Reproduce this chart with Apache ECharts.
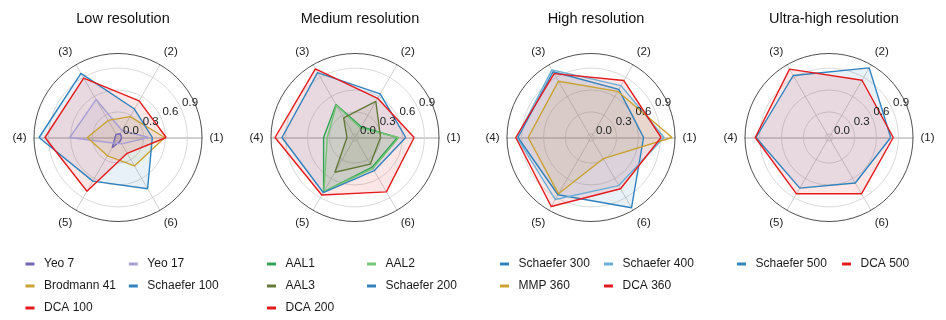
<!DOCTYPE html>
<html>
<head>
<meta charset="utf-8">
<script src="https://cdn.jsdelivr.net/npm/echarts@6/dist/echarts.min.js"></script>
<style>html,body{margin:0;padding:0;background:#fff}#c{width:946px;height:320px}</style>
</head>
<body>
<div id="c"></div>
<script>
// ---- data ----
const categories = ['(1)', '(2)', '(3)', '(4)', '(5)', '(6)'];
const radialTicks = ['0.0', '0.3', '0.6', '0.9'];
const titles = ['Low resolution', 'Medium resolution', 'High resolution', 'Ultra-high resolution'];

// Low resolution
const yeo7        = [0.00, 0.01, 0.00, -0.01, 0.11, 0.01];
const yeo17       = [0.37, 0.06, 0.55, 0.61, 0.04, 0.05];
const brodmann41  = [0.59, 0.28, 0.22, 0.37, 0.24, 0.40];
const schaefer100 = [0.42, 0.40, 0.965, 1.03, 0.64, 0.76];
const dca100      = [0.61, 0.53, 0.89, 0.95, 0.80, 0.20];
// Medium resolution
const aal1        = [0.53, 0.12, 0.47, 0.38, 0.81, 0.42];
const aal2        = [0.55, 0.10, 0.46, 0.33, 0.80, 0.44];
const aal3        = [0.30, 0.52, 0.26, 0.06, 0.50, 0.37];
const schaefer200 = [0.645, 0.64, 0.975, 0.95, 0.82, 0.475];
const dca200      = [0.76, 0.57, 1.035, 1.045, 0.86, 0.81];
// High resolution
const schaefer300 = [0.67, 0.71, 0.99, 0.95, 0.855, 1.06];
const schaefer400 = [0.95, 0.77, 1.02, 0.965, 0.93, 0.71];
const mmp360      = [1.06, 0.68, 0.84, 0.81, 0.84, 0.285];
const dca360      = [0.91, 0.85, 0.96, 0.98, 1.04, 0.76];
// Ultra-high resolution
const schaefer500 = [0.795, 1.05, 0.93, 0.95, 0.75, 0.67];
const dca500      = [0.83, 0.855, 1.03, 0.96, 0.84, 0.84];

const panelSeries = [
  [['Yeo 7', yeo7], ['Yeo 17', yeo17], ['Brodmann 41', brodmann41], ['Schaefer 100', schaefer100], ['DCA 100', dca100]],
  [['AAL1', aal1], ['AAL2', aal2], ['AAL3', aal3], ['Schaefer 200', schaefer200], ['DCA 200', dca200]],
  [['Schaefer 300', schaefer300], ['Schaefer 400', schaefer400], ['MMP 360', mmp360], ['DCA 360', dca360]],
  [['Schaefer 500', schaefer500], ['DCA 500', dca500]]
];
const legendCols = [
  [['Yeo 7', 'Brodmann 41', 'DCA 100'], ['Yeo 17', 'Schaefer 100']],
  [['AAL1', 'AAL3', 'DCA 200'], ['AAL2', 'Schaefer 200']],
  [['Schaefer 300', 'MMP 360'], ['Schaefer 400', 'DCA 360']],
  [['Schaefer 500'], ['DCA 500']]
];

// ---- styles ----
const colors = {
  'Yeo 7': '#7465b4', 'Yeo 17': '#a99fd3', 'Brodmann 41': '#c9a232', 'Schaefer 100': '#3182bd', 'DCA 100': '#e41a1c',
  'AAL1': '#31a354', 'AAL2': '#74c476', 'AAL3': '#637939', 'Schaefer 200': '#3182bd', 'DCA 200': '#e41a1c',
  'Schaefer 300': '#3182bd', 'Schaefer 400': '#6baed6', 'MMP 360': '#c9a232', 'DCA 360': '#e41a1c',
  'Schaefer 500': '#3182bd', 'DCA 500': '#e41a1c'
};
const FONT = 'Liberation Sans, Arial, Helvetica, sans-serif';
const centersX = [118, 355, 591, 829];
const CY = 137.5, R = 84;
const RMIN = -0.05, RMAX = 1.1;
const pxPerUnit = R / (RMAX - RMIN);
const legendLefts = [[20.5, 123.8], [262, 362], [495, 599], [732, 837]];

// ring colors: only 0.0, 0.3, 0.6, 0.9 visible
const ringColors = [];
for (let k = 0; k <= 23; k++) {
  const v = (RMIN + 0.05 * k).toFixed(2);
  ringColors.push(['0.00', '0.30', '0.60', '0.90'].includes(v) ? '#cfcfcf' : 'rgba(0,0,0,0)');
}

const polar = [], angleAxis = [], radiusAxis = [], series = [], title = [], legend = [];
centersX.forEach((cx, p) => {
  // main polar
  polar.push({center: [cx, CY], radius: R});
  angleAxis.push({
    polarIndex: polar.length - 1, type: 'value', min: 0, max: 360, interval: 60,
    startAngle: 0, clockwise: false,
    axisLine: {show: true, lineStyle: {color: '#222', width: 0.8}},
    axisTick: {show: false},
    splitLine: {show: true, lineStyle: {color: ['rgba(0,0,0,0)', '#c4c4c4', '#c4c4c4', 'rgba(0,0,0,0)', '#c4c4c4', '#c4c4c4'], width: 0.8}},
    axisLabel: {show: true, margin: 7.5, fontSize: 11.5, color: '#222', fontFamily: FONT,
      formatter: v => categories[Math.round(v / 60)] && v < 360 ? categories[Math.round(v / 60)] : ''}
  });
  radiusAxis.push({
    polarIndex: polar.length - 1, type: 'value', min: RMIN, max: RMAX, interval: 0.05,
    axisLine: {show: true, lineStyle: {color: '#d0d0d0', width: 2}},
    axisTick: {show: false}, axisLabel: {show: false},
    splitLine: {show: true, lineStyle: {color: ringColors, width: 0.8}}
  });
  // left half of horizontal line
  polar.push({center: [cx, CY], radius: R});
  angleAxis.push({
    polarIndex: polar.length - 1, type: 'value', min: 0, max: 360, startAngle: 180, clockwise: false,
    axisLine: {show: false}, axisTick: {show: false}, axisLabel: {show: false}, splitLine: {show: false}
  });
  radiusAxis.push({
    polarIndex: polar.length - 1, type: 'value', min: RMIN, max: RMAX,
    axisLine: {show: true, lineStyle: {color: '#d0d0d0', width: 2}},
    axisTick: {show: false}, axisLabel: {show: false}, splitLine: {show: false}
  });
  // radial tick labels
  const lblMin = -0.1;
  polar.push({center: [cx, CY], radius: (RMAX - lblMin) * pxPerUnit});
  angleAxis.push({
    polarIndex: polar.length - 1, type: 'value', min: 0, max: 360, startAngle: 26, clockwise: false,
    axisLine: {show: false}, axisTick: {show: false}, axisLabel: {show: false}, splitLine: {show: false}
  });
  radiusAxis.push({
    polarIndex: polar.length - 1, type: 'value', min: lblMin, max: RMAX, interval: 0.1, z: 10,
    axisLine: {show: false}, axisTick: {show: false}, splitLine: {show: false},
    axisLabel: {show: true, margin: 3.5, fontSize: 11.5, color: '#222', fontFamily: FONT,
      align: 'left', verticalAlign: 'middle', showMinLabel: true, showMaxLabel: true, hideOverlap: false,
      formatter: v => { const s = Number(v).toFixed(1); return (radialTicks.includes(s) && Math.abs(v - Number(s)) < 1e-6) ? s : ''; }}
  });
  const mainIdx = polar.length - 3;

  title.push({
    text: titles[p], left: cx, top: 6, textAlign: 'center',
    textStyle: {fontSize: 14.5, fontWeight: 'normal', color: '#111', fontFamily: FONT}
  });

  panelSeries[p].forEach(([name, vals]) => {
    const pts = vals.map((v, i) => [v, i * 360 / categories.length]);
    pts.push([vals[0], 360]);
    series.push({
      name, type: 'line', coordinateSystem: 'polar', polarIndex: mainIdx,
      data: pts, symbol: 'none', smooth: false, animation: false,
      color: colors[name],
      lineStyle: {width: 1.4, color: colors[name]},
      areaStyle: {color: colors[name], opacity: 0.11, origin: 'start'}
    });
  });

  legendCols[p].forEach((col, ci) => {
    legend.push({
      data: col, orient: 'vertical', left: legendLefts[p][ci], top: 253,
      itemWidth: 18, itemHeight: 3, itemGap: 10, selectedMode: false,
      icon: 'path://M0,0h9v3h-9z', symbolKeepAspect: true,
      textStyle: {fontSize: 12, color: '#1a1a1a', fontFamily: FONT}
    });
  });
});

const chart = echarts.init(document.getElementById('c'), null, {renderer: 'canvas'});
chart.setOption({animation: false, backgroundColor: '#fff', title, polar, angleAxis, radiusAxis, legend, series});
</script>
</body>
</html>
